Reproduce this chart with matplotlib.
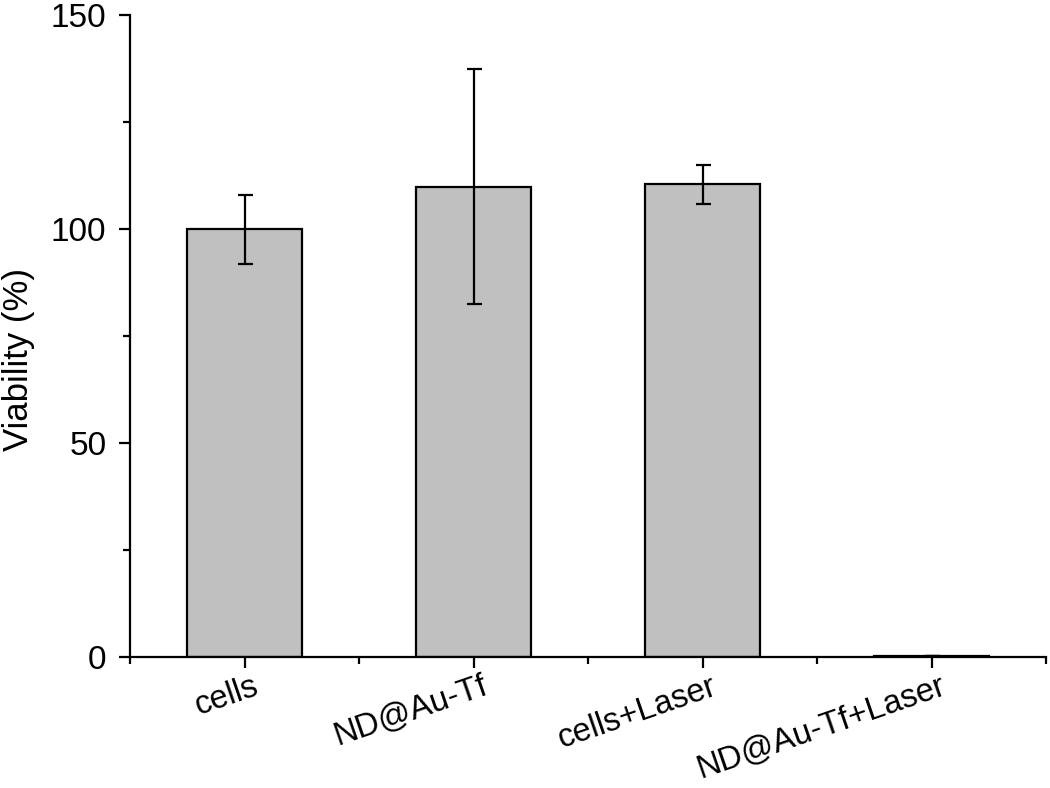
import matplotlib
matplotlib.use("Agg")
import matplotlib.pyplot as plt
from matplotlib.ticker import MultipleLocator, FixedLocator
import matplotlib.transforms as mtransforms

categories = ["cells", "ND@Au-Tf", "cells+Laser", "ND@Au-Tf+Laser"]
viability = [99.9, 109.9, 110.4, 0.3]
errors = [8.0, 27.5, 4.6, 0.0]

plt.rcParams['font.family'] = ['Liberation Sans', 'DejaVu Sans']

fig = plt.figure(figsize=(10.5, 7.88), dpi=100)
ax = fig.add_axes([130/1050, 1-657/788, (1046-130)/1050, (657-15)/788])

x = list(range(1, len(categories) + 1))
ax.bar(x, viability, width=0.5, color='#c0c0c0', edgecolor='black', linewidth=1.6, zorder=2)
ax.errorbar(x, viability, yerr=errors, fmt='none', ecolor='black', elinewidth=1.6,
            capsize=5.4, capthick=1.6, zorder=3)

ax.set_xlim(0.5, 4.5)
ax.set_ylim(0, 150)
for s in ['top', 'right']:
    ax.spines[s].set_visible(False)
for s in ['left', 'bottom']:
    ax.spines[s].set_linewidth(1.6)

ax.yaxis.set_major_locator(MultipleLocator(50))
ax.yaxis.set_minor_locator(MultipleLocator(25))
ax.set_xticks(x)
ax.xaxis.set_minor_locator(FixedLocator([0.5, 1.5, 2.5, 3.5, 4.5]))
ax.tick_params(axis='both', which='major', direction='out', length=8, width=1.6, labelsize=24)
ax.tick_params(axis='both', which='minor', direction='out', length=5, width=1.6)
ax.tick_params(axis='y', which='major', pad=9)
ax.tick_params(axis='x', which='major', pad=2)

ax.set_xticklabels(categories, rotation=19, ha='right', va='top', rotation_mode='anchor', fontsize=23.5)
offset = mtransforms.ScaledTranslation(6/72, 0, fig.dpi_scale_trans)
for lbl in ax.get_xticklabels():
    lbl.set_transform(lbl.get_transform() + offset)

ax.set_ylabel('Viability (%)', fontsize=25)
ax.yaxis.label.set_va('center')
ax.yaxis.set_label_coords((19 - 130) / 916, (657 - 360) / 642)

fig.savefig('out.png', dpi=100)
